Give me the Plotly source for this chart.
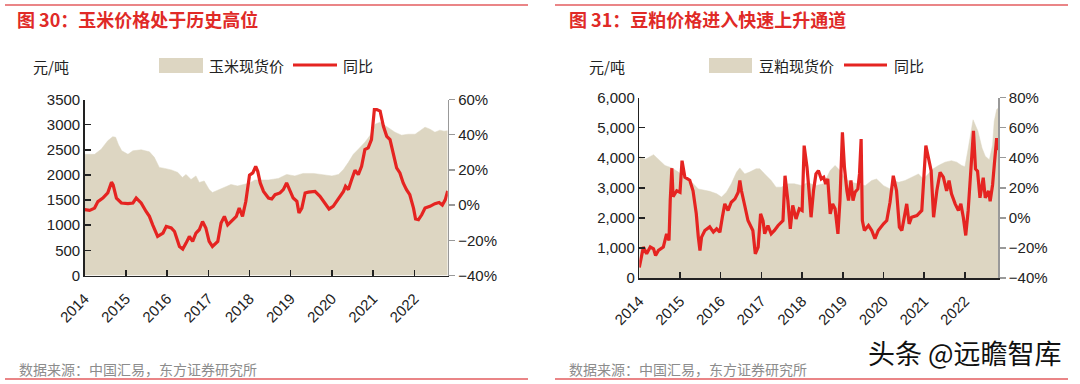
import plotly.graph_objects as go

# ---------------- data ----------------
years = [2014, 2015, 2016, 2017, 2018, 2019, 2020, 2021, 2022]
year_labels = [str(y) for y in years]

corn_price_t = [2014.0, 2014.24, 2014.4, 2014.56, 2014.68, 2014.75, 2014.82, 2014.9, 2015.05, 2015.17,
                2015.37, 2015.57, 2015.69, 2015.81, 2015.94, 2016.1, 2016.26, 2016.37, 2016.46, 2016.58,
                2016.7, 2016.78, 2016.9, 2017.02, 2017.1, 2017.23, 2017.39, 2017.55, 2017.71, 2017.87,
                2018.0, 2018.13, 2018.46, 2018.7, 2018.9, 2019.1, 2019.3, 2019.55, 2019.75, 2020.0,
                2020.16, 2020.28, 2020.4, 2020.52, 2020.64, 2020.8, 2020.92, 2021.05, 2021.17, 2021.29,
                2021.41, 2021.53, 2021.69, 2021.85, 2022.02, 2022.14, 2022.26, 2022.38, 2022.5, 2022.62,
                2022.72, 2022.81]
corn_price = [2410, 2410, 2510, 2680, 2760, 2750, 2600, 2480, 2410, 2480,
              2500, 2460, 2350, 2150, 2130, 2100, 2050, 1950, 2010, 1910,
              1980, 1850, 1880, 1710, 1650, 1700, 1750, 1810, 1780, 1810,
              1840, 1900, 1900, 1930, 2010, 1980, 2030, 2030, 2010, 1980,
              2010, 2110, 2250, 2410, 2510, 2650, 2780, 3010, 3050, 2980,
              2910, 2850, 2790, 2810, 2810, 2880, 2950, 2910, 2850, 2890,
              2870, 2880]

corn_yoy_t = [2014.0, 2014.12, 2014.24, 2014.32, 2014.44, 2014.56, 2014.65, 2014.69, 2014.77, 2014.89,
              2015.05, 2015.17, 2015.25, 2015.37, 2015.49, 2015.57, 2015.65, 2015.77, 2015.9, 2015.98,
              2016.1, 2016.18, 2016.3, 2016.38, 2016.46, 2016.54, 2016.62, 2016.7, 2016.78, 2016.86,
              2016.94, 2017.02, 2017.1, 2017.23, 2017.31, 2017.39, 2017.47, 2017.6, 2017.68, 2017.75,
              2017.83, 2017.91, 2018.0, 2018.08, 2018.15, 2018.2, 2018.26, 2018.34, 2018.46, 2018.54,
              2018.62, 2018.74, 2018.82, 2018.9, 2018.98, 2019.06, 2019.15, 2019.2, 2019.27, 2019.35,
              2019.43, 2019.59, 2019.71, 2019.83, 2019.93, 2020.03, 2020.16, 2020.28, 2020.33, 2020.4,
              2020.48, 2020.56, 2020.64, 2020.72, 2020.8, 2020.88, 2020.96, 2021.03, 2021.09, 2021.17,
              2021.25, 2021.33, 2021.41, 2021.49, 2021.57, 2021.65, 2021.73, 2021.81, 2021.89, 2021.98,
              2022.03, 2022.1, 2022.18, 2022.26, 2022.38, 2022.5, 2022.6, 2022.68, 2022.75, 2022.81]
corn_yoy = [-2.6, -3, -1.7, 2, 4, 7, 13, 11.5, 4, 1.2,
            0.8, 1.2, 4, 1.2, -3.6, -6.4, -11.2, -17.8, -15.9, -12.1,
            -13, -15, -23.5, -25, -21.6, -17.8, -20.6, -15.9, -14, -9.3,
            -13, -20.6, -23.5, -20.6, -10.2, -6.4, -11.2, -8.3, -6.4, -1.7,
            -6.4, 2, 17, 18.3, 22, 19.2, 12.6, 7.8, 4, 3.5,
            5.9, 6.9, 8.8, 12.6, 8.8, 4, 2.1, -4.5, -1.7, 6.9,
            7.4, 7.8, 5, 1.2, -2.2, -0.7, 4, 7.8, 10.7, 8.8,
            14.5, 19.8, 17.3, 22, 31.5, 32.5, 37.2, 54.3, 54.3, 53.4,
            44.8, 39.1, 37.2, 28.7, 21.1, 18.3, 12.6, 8.8, 5.9, -1.7,
            -7.9, -8.3, -5.5, -1.7, -0.7, 0.8, 1.5, 0, 3, 8]

sbm_price_t = [2014.0, 2014.15, 2014.35, 2014.5, 2014.63, 2014.8, 2014.96, 2015.12, 2015.29, 2015.45,
               2015.57, 2015.73, 2015.9, 2016.02, 2016.14, 2016.26, 2016.39, 2016.47, 2016.59, 2016.71,
               2016.87, 2016.96, 2017.08, 2017.24, 2017.36, 2017.49, 2017.65, 2017.81, 2018.0, 2018.14,
               2018.32, 2018.53, 2018.69, 2018.81, 2018.93, 2019.06, 2019.22, 2019.38, 2019.55, 2019.71,
               2019.83, 2020.0, 2020.16, 2020.24, 2020.37, 2020.53, 2020.69, 2020.86, 2020.98, 2021.1,
               2021.22, 2021.35, 2021.51, 2021.67, 2021.8, 2021.92, 2022.0, 2022.08, 2022.2, 2022.32,
               2022.42, 2022.5, 2022.6, 2022.68, 2022.72, 2022.78, 2022.82]
sbm_price = [4050, 3950, 4100, 3900, 3740, 3660, 3520, 3350, 3180, 2960,
             2930, 2880, 2800, 2690, 2850, 3130, 3520, 3660, 3460, 3520,
             3630, 3630, 3460, 3240, 3020, 3020, 3130, 3130, 3070, 3180,
             3070, 3130, 3570, 3740, 3570, 3290, 3180, 3130, 3070, 3240,
             3290, 3070, 2960, 3240, 3180, 3240, 3350, 3460, 3290, 3460,
             3630, 3740, 3850, 3900, 3850, 3740, 3700, 4300, 5260, 4880,
             4320, 4050, 3930, 4430, 5210, 5600, 5650]

sbm_yoy_t = [2014.0, 2014.05, 2014.1, 2014.18, 2014.27, 2014.35, 2014.4, 2014.47, 2014.59, 2014.67,
             2014.73, 2014.76, 2014.8, 2014.83, 2014.92, 2015.0, 2015.05, 2015.12, 2015.24, 2015.32,
             2015.4, 2015.45, 2015.49, 2015.53, 2015.61, 2015.73, 2015.82, 2015.9, 2015.98, 2016.04,
             2016.1, 2016.18, 2016.26, 2016.35, 2016.43, 2016.47, 2016.51, 2016.59, 2016.67, 2016.79,
             2016.85, 2016.92, 2016.98, 2017.04, 2017.08, 2017.16, 2017.24, 2017.32, 2017.41, 2017.53,
             2017.58, 2017.65, 2017.71, 2017.77, 2017.85, 2017.93, 2018.0, 2018.05, 2018.12, 2018.17,
             2018.22, 2018.28, 2018.34, 2018.4, 2018.47, 2018.53, 2018.58, 2018.63, 2018.69, 2018.75,
             2018.81, 2018.88, 2018.93, 2018.99, 2019.04, 2019.1, 2019.14, 2019.2, 2019.25, 2019.3,
             2019.37, 2019.41, 2019.45, 2019.48, 2019.53, 2019.63, 2019.71, 2019.79, 2019.87, 2020.0,
             2020.08, 2020.16, 2020.24, 2020.32, 2020.39, 2020.45, 2020.51, 2020.57, 2020.63, 2020.69,
             2020.82, 2020.94, 2021.04, 2021.1, 2021.17, 2021.23, 2021.31, 2021.39, 2021.47, 2021.55,
             2021.61, 2021.67, 2021.76, 2021.84, 2021.9, 2021.96, 2022.02, 2022.08, 2022.15, 2022.21,
             2022.26, 2022.31, 2022.37, 2022.45, 2022.5, 2022.58, 2022.62, 2022.68, 2022.73, 2022.78,
             2022.82]
sbm_yoy = [-33, -27, -19.4, -23.9, -19.4, -20.6, -25, -21.7, -19.4, -10.6,
           -15, 11.5, 33, 14, 18, 17, 38, 27, 25, 18,
           2.7, -12.8, -21.7, -12.8, -8.4, -6, -9.5, -7.3, -9.5, 0.4,
           9.3, 4.9, 10.4, 12.6, 17, 24.8, 18, 8.2, -1.8, -8.4,
           -23.9, -19.4, 2.7, -2, -10.6, -5.1, -10.6, -8.4, -5.1, -1.8,
           28, 11.5, -7.3, 8.2, -0.7, 6, 4.9, 48, 33.6, 18,
           0.4, 18, 29.2, 31.4, 25.9, 27, 22.5, 25.9, 2.7, 9.3,
           6, -10.6, 11.5, 56.8, 33.6, 18, 11.5, 24.8, 11.5, 17,
           19.2, 29.2, 52.4, -1.8, -8.4, -5.1, -8.4, -13.9, -8.4, -4,
           -1.8, 10.4, 28, 18, -6.2, -8.4, 0.4, 9.3, -4, 0.4,
           1.5, 4.9, 48, 40.2, 31.4, 0.4, 18, 30.3, 27, 18,
           24.8, 16, 9.3, 4.9, 9.3, 0.4, -11.7, 4.9, 34.7, 57.9,
           32.5, 31, 13.3, 26.7, 13.3, 17.8, 11, 22, 37.8, 53,
           45]

# ---------------- styling ----------------
W, H = 1080, 384
FILL = "#ddd6c2"
RED = "#e52421"
TITLE_RED = "#e02a27"
RULE = "#e35d5f"
NUMFONT = "Liberation Sans, Arial, Noto Sans CJK SC, sans-serif"
CJK = "Noto Sans CJK SC, Liberation Sans, sans-serif"


def fx(px):
    return px / W


def fy(py):
    return 1 - py / H


fig = go.Figure()

fig.add_trace(go.Scatter(x=corn_price_t, y=corn_price, mode="lines", fill="tozeroy",
                         fillcolor=FILL, line=dict(width=0.5, color=FILL),
                         xaxis="x", yaxis="y", showlegend=False, hoverinfo="skip"))
fig.add_trace(go.Scatter(x=corn_yoy_t, y=corn_yoy, mode="lines",
                         line=dict(width=3.2, color=RED),
                         xaxis="x", yaxis="y2", showlegend=False))
fig.add_trace(go.Scatter(x=sbm_price_t, y=sbm_price, mode="lines", fill="tozeroy",
                         fillcolor=FILL, line=dict(width=0.5, color=FILL),
                         xaxis="x2", yaxis="y3", showlegend=False, hoverinfo="skip"))
fig.add_trace(go.Scatter(x=sbm_yoy_t, y=sbm_yoy, mode="lines",
                         line=dict(width=3.2, color=RED),
                         xaxis="x2", yaxis="y4", showlegend=False))

tickfont = dict(family=NUMFONT, size=15, color="#222")

xcommon = dict(tickmode="array", tickvals=years, ticktext=year_labels, tickangle=-45,
               ticks="inside", ticklen=6, tickcolor="#222", tickwidth=1.5,
               showline=True, linecolor="#222", linewidth=1.5, showgrid=False,
               zeroline=False, tickfont=tickfont, fixedrange=True, automargin=False,
               ticklabelstandoff=7)
yleft = dict(ticks="inside", ticklen=6, tickcolor="#222", tickwidth=1.5,
             showline=True, linecolor="#222", linewidth=1.5, showgrid=False,
             zeroline=False, tickfont=tickfont, automargin=False)
yright = dict(side="right", ticks="outside", ticklen=6, tickcolor="#999", tickwidth=1.5,
              showline=True, linecolor="#999", linewidth=1.5, showgrid=False,
              zeroline=False, tickfont=tickfont, ticksuffix="%", automargin=False)

fig.update_layout(
    width=W, height=H, autosize=False,
    margin=dict(l=0, r=0, t=0, b=0, pad=0, autoexpand=False),
    showlegend=False,
    paper_bgcolor="white", plot_bgcolor="rgba(0,0,0,0)",
    font=dict(family=NUMFONT, size=15, color="#222"),
    xaxis=dict(domain=[fx(84.7), fx(447.7)], range=[2014, 2022.81], anchor="y", **xcommon),
    yaxis=dict(domain=[fy(275.5), fy(99.5)], range=[0, 3500], dtick=500, anchor="x", **yleft),
    yaxis2=dict(overlaying="y", anchor="x", range=[-40, 60], dtick=20, **yright),
    xaxis2=dict(domain=[fx(639.3), fx(998.3)], range=[2014, 2022.82], anchor="y3", **xcommon),
    yaxis3=dict(domain=[fy(278), fy(97.5)], range=[0, 6000], dtick=1000, tickformat=",",
                anchor="x2", **yleft),
    yaxis4=dict(overlaying="y3", anchor="x2", range=[-40, 80], dtick=20, **yright),
)

shapes = []
annotations = []


def panel(x0, x1, title, unit, legend_name, lg, source, title_x, unit_x, src_x):
    shapes.append(dict(type="line", xref="paper", yref="paper", x0=fx(x0), x1=fx(x1),
                       y0=fy(5), y1=fy(5), line=dict(color=RULE, width=1.5)))
    shapes.append(dict(type="line", xref="paper", yref="paper", x0=fx(x0), x1=fx(x1),
                       y0=fy(379), y1=fy(379), line=dict(color=RULE, width=1.5)))
    annotations.append(dict(text="<b>" + title + "</b>", x=fx(title_x), y=fy(19), xref="paper",
                            yref="paper", xanchor="left", yanchor="middle", showarrow=False,
                            font=dict(family=CJK, size=18, color=TITLE_RED)))
    annotations.append(dict(text=unit, x=fx(unit_x), y=fy(67), xref="paper", yref="paper",
                            xanchor="left", yanchor="middle", showarrow=False,
                            font=dict(family=CJK, size=15, color="#222")))
    bx0, bx1, tx, lx0, lx1, tx2 = lg
    shapes.append(dict(type="rect", xref="paper", yref="paper", x0=fx(bx0), x1=fx(bx1),
                       y0=fy(73), y1=fy(58), fillcolor=FILL, line=dict(width=0)))
    annotations.append(dict(text=legend_name, x=fx(tx), y=fy(65), xref="paper", yref="paper",
                            xanchor="left", yanchor="middle", showarrow=False,
                            font=dict(family=CJK, size=15, color="#222")))
    shapes.append(dict(type="line", xref="paper", yref="paper", x0=fx(lx0), x1=fx(lx1),
                       y0=fy(65), y1=fy(65), line=dict(color=RED, width=3)))
    annotations.append(dict(text="同比", x=fx(tx2), y=fy(65), xref="paper", yref="paper",
                            xanchor="left", yanchor="middle", showarrow=False,
                            font=dict(family=CJK, size=15, color="#222")))
    annotations.append(dict(text=source, x=fx(src_x), y=fy(369), xref="paper", yref="paper",
                            xanchor="left", yanchor="middle", showarrow=False,
                            font=dict(family=CJK, size=14, color="#8c8c8c")))


panel(5, 528, "图 30：玉米价格处于历史高位", "元/吨", "玉米现货价",
      (159, 203, 207, 293, 337, 341), "数据来源：中国汇易，东方证券研究所", 15, 31, 17)
panel(555, 1068, "图 31：豆粕价格进入快速上升通道", "元/吨", "豆粕现货价",
      (709, 752, 757, 844, 887, 892), "数据来源：中国汇易，东方证券研究所", 567, 587, 567)

annotations.append(dict(text="头条 @远瞻智库", x=fx(1064), y=fy(352), xref="paper", yref="paper",
                        xanchor="right", yanchor="middle", showarrow=False,
                        font=dict(family=CJK, size=27, color="#111")))

fig.update_layout(shapes=shapes, annotations=annotations)
fig.write_html("out.html", config={"displayModeBar": False, "staticPlot": True},
               post_script="document.body.style.margin='0';document.body.style.overflow='hidden';")
